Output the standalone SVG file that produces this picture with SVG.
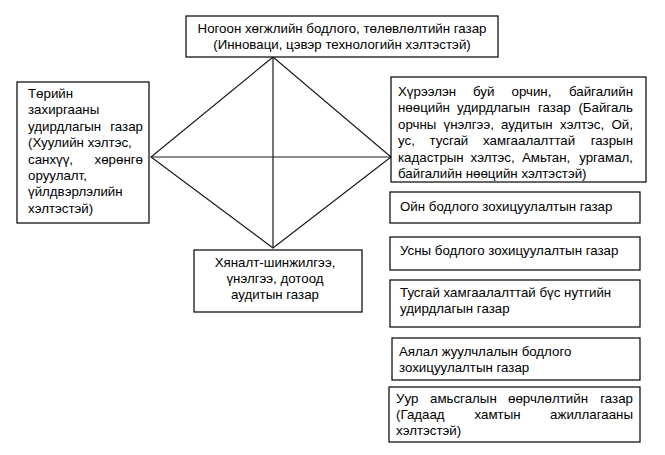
<svg xmlns="http://www.w3.org/2000/svg" width="665" height="455" viewBox="0 0 665 455">
<style>
.box{fill:#fff;stroke:#000;stroke-width:1.2}
.t{font-family:"Liberation Sans",Arial,sans-serif;font-size:13.3px;fill:#000}
.c{text-anchor:middle}
.e{text-anchor:end}
.ln{stroke:#1a1a1a;stroke-width:1.2;fill:none}
</style>
<rect width="665" height="455" fill="#fff"/>
<g id="connectors">
<path class="ln" d="M273,57 L151,157 L273,248 L391,157 Z"/>
<line class="ln" x1="273" y1="57" x2="273" y2="248"/>
<line class="ln" x1="151" y1="157" x2="391" y2="157"/>
</g>
<g id="top">
<rect class="box" x="186" y="16" width="312" height="41"/>
<text class="t c" x="342" y="33">Ногоон хөгжлийн бодлого, төлөвлөлтийн газар</text>
<text class="t c" x="342" y="49">(Инноваци, цэвэр технологийн хэлтэстэй)</text>
</g>
<g id="left">
<rect class="box" x="17" y="82" width="132" height="141"/>
<text class="t" x="28" y="98">Төрийн</text>
<text class="t" x="28" y="114.4">захиргааны</text>
<text class="t" y="130.8"><tspan x="28">удирдлагын</tspan><tspan class="e" x="143">газар</tspan></text>
<text class="t" x="28" y="147.2">(Хуулийн хэлтэс,</text>
<text class="t" y="163.6"><tspan x="28">санхүү,</tspan><tspan class="e" x="143">хөрөнгө</tspan></text>
<text class="t" x="28" y="180">оруулалт,</text>
<text class="t" x="28" y="196.4">үйлдвэрлэлийн</text>
<text class="t" x="28" y="212.8">хэлтэстэй)</text>
</g>
<g id="bottom">
<rect class="box" x="194" y="250" width="168" height="62"/>
<text class="t c" x="275" y="267">Хяналт-шинжилгээ,</text>
<text class="t c" x="275" y="283">үнэлгээ, дотоод</text>
<text class="t c" x="275" y="299">аудитын газар</text>
</g>
<g id="env">
<rect class="box" x="391" y="77" width="255" height="105"/>
<text class="t" y="95.5"><tspan x="398">Хүрээлэн</tspan><tspan x="473">буй</tspan><tspan x="511.5">орчин,</tspan><tspan class="e" x="633">байгалийн</tspan></text>
<text class="t" y="112"><tspan x="398">нөөцийн</tspan><tspan x="457">удирдлагын</tspan><tspan x="538">газар</tspan><tspan class="e" x="633">(Байгаль</tspan></text>
<text class="t" y="128.5"><tspan x="398">орчны</tspan><tspan x="443.5">үнэлгээ,</tspan><tspan x="501">аудитын</tspan><tspan x="560">хэлтэс,</tspan><tspan class="e" x="633">Ой,</tspan></text>
<text class="t" y="145"><tspan x="398">ус,</tspan><tspan x="429.5">тусгай</tspan><tspan x="483">хамгаалалттай</tspan><tspan class="e" x="633">газрын</tspan></text>
<text class="t" y="161.5"><tspan x="398">кадастрын</tspan><tspan x="470.5">хэлтэс,</tspan><tspan x="522">Амьтан,</tspan><tspan class="e" x="633">ургамал,</tspan></text>
<text class="t" x="398" y="178">байгалийн нөөцийн хэлтэстэй)</text>
</g>
<g id="forest">
<rect class="box" x="390" y="192" width="250" height="31"/>
<text class="t" x="400" y="211">Ойн бодлого зохицуулалтын газар</text>
</g>
<g id="water">
<rect class="box" x="390" y="237" width="250" height="33"/>
<text class="t" x="400" y="255">Усны бодлого зохицуулалтын газар</text>
</g>
<g id="protected">
<rect class="box" x="390" y="280" width="250" height="47"/>
<text class="t" x="400" y="297">Тусгай хамгаалалттай бүс нутгийн</text>
<text class="t" x="400" y="313">удирдлагын газар</text>
</g>
<g id="tourism">
<rect class="box" x="392" y="338" width="248" height="42"/>
<text class="t" x="399" y="356">Аялал жуулчлалын бодлого</text>
<text class="t" x="399" y="372">зохицуулалтын газар</text>
</g>
<g id="climate">
<rect class="box" x="389" y="387" width="251" height="55"/>
<text class="t" y="403"><tspan x="396">Уур</tspan><tspan x="430">амьсгалын</tspan><tspan x="508">өөрчлөлтийн</tspan><tspan class="e" x="633">газар</tspan></text>
<text class="t" y="419"><tspan x="396">(Гадаад</tspan><tspan x="474.5">хамтын</tspan><tspan class="e" x="633">ажиллагааны</tspan></text>
<text class="t" x="396" y="435">хэлтэстэй)</text>
</g>
</svg>
